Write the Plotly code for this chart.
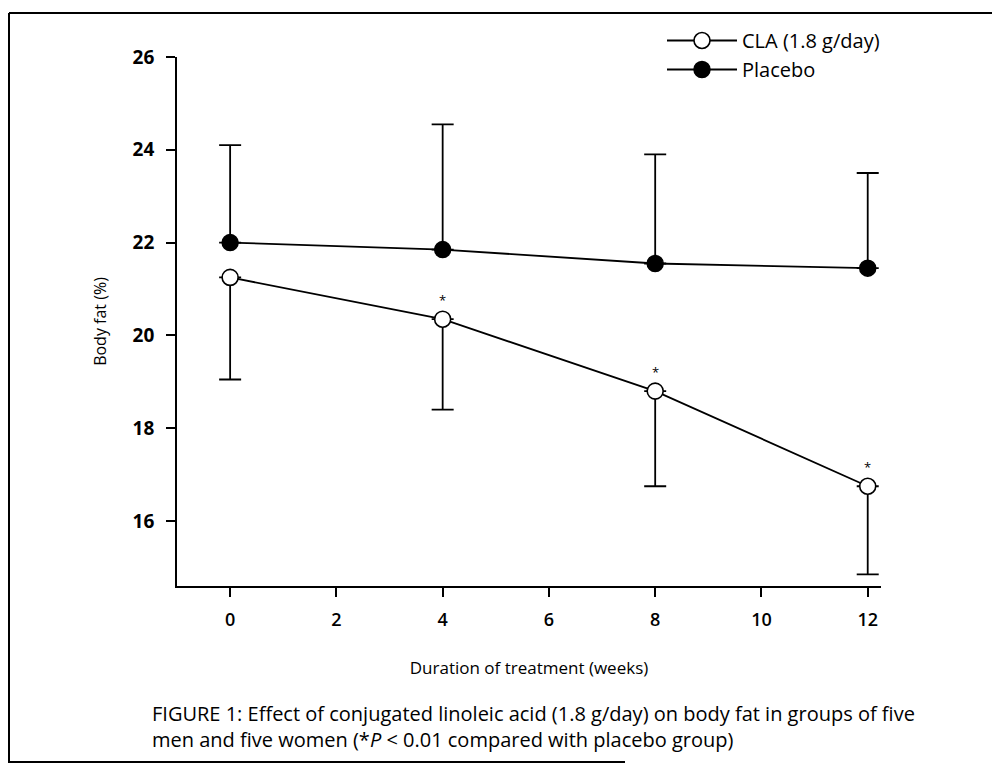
import plotly.graph_objects as go

weeks = [0, 4, 8, 12]
cla = [21.25, 20.35, 18.8, 16.75]
cla_err_low = [2.2, 1.95, 2.05, 1.9]
placebo = [22.0, 21.85, 21.55, 21.45]
placebo_err_up = [2.1, 2.7, 2.35, 2.05]
sig_weeks = [4, 8, 12]
sig_vals = [20.35, 18.8, 16.75]
x_ticks = [0, 2, 4, 6, 8, 10, 12]
y_ticks = [16, 18, 20, 22, 24, 26]

FONT = "Open Sans"
OFF = 8  # page body margin in the browser
# plot area wanted on screen: x 177..881, y 57..586
L, T = 177 - OFF, 57 - OFF
R, B = 1000 - (881 - OFF), 777 - (586 - OFF)
PW, PH = 1000 - L - R, 777 - T - B

def px(x):
    return (x - OFF - L) / PW

def py(y):
    return (777 - B - (y - OFF)) / PH

fig = go.Figure()
fig.add_trace(go.Scatter(
    x=weeks, y=placebo, name="Placebo", mode="lines+markers", cliponaxis=False,
    line=dict(color="black", width=1.8),
    marker=dict(symbol="circle", size=16, color="black", line=dict(color="black", width=1.5)),
    error_y=dict(type="data", symmetric=False, array=placebo_err_up,
                 arrayminus=[0] * len(weeks), color="black", thickness=1.8, width=11),
))
fig.add_trace(go.Scatter(
    x=weeks, y=cla, name="CLA (1.8 g/day)", mode="lines+markers", cliponaxis=False,
    line=dict(color="black", width=1.8),
    marker=dict(symbol="circle", size=16, color="white", line=dict(color="black", width=1.6)),
    error_y=dict(type="data", symmetric=False, array=[0] * len(weeks),
                 arrayminus=cla_err_low, color="black", thickness=1.8, width=11),
))

for w, v in zip(sig_weeks, sig_vals):
    fig.add_annotation(x=w, y=v, text="*", showarrow=False, yshift=19,
                       font=dict(family=FONT, size=13, color="black"))

fig.add_annotation(
    xref="paper", yref="paper", x=px(150), y=py(698), xanchor="left", yanchor="top",
    align="left", showarrow=False, font=dict(family=FONT, size=20, color="black"),
    text="FIGURE 1: Effect of conjugated linoleic acid (1.8 g/day) on body fat in groups of five<br>"
         "men and five women (*<i>P</i> &lt; 0.01 compared with placebo group)",
)

# page frame (scanned figure border)
line = dict(color="black", width=2)
fig.add_shape(type="line", xref="paper", yref="paper", x0=px(9), x1=px(1010), y0=py(13), y1=py(13), line=line)
fig.add_shape(type="line", xref="paper", yref="paper", x0=px(9), x1=px(9), y0=py(13), y1=py(762), line=line)
fig.add_shape(type="line", xref="paper", yref="paper", x0=px(8), x1=px(625), y0=py(762), y1=py(762), line=line)

fig.update_layout(
    width=1000, height=777,
    margin=dict(l=L, r=R, t=T, b=B, autoexpand=False),
    paper_bgcolor="white", plot_bgcolor="white",
    font=dict(family=FONT, color="black"),
    showlegend=True,
    legend=dict(x=px(662), y=py(21), xanchor="left", yanchor="top",
                traceorder="reversed", bgcolor="rgba(0,0,0,0)",
                font=dict(family=FONT, size=20, color="black"),
                itemwidth=70, tracegroupgap=2),
    xaxis=dict(range=[-1, 12.25], tickvals=x_ticks, ticks="outside", ticklen=9, tickwidth=1.8,
               tickcolor="black", showline=True, linecolor="black", linewidth=1.8,
               showgrid=False, zeroline=False, automargin=False, ticklabelstandoff=7,
               tickfont=dict(family=FONT, size=18, color="black", weight=600),
               title=dict(text="Duration of treatment (weeks)", standoff=33,
                          font=dict(family=FONT, size=17, color="black"))),
    yaxis=dict(range=[14.6, 26], tickvals=y_ticks, ticks="outside", ticklen=9, tickwidth=1.8,
               tickcolor="black", showline=True, linecolor="black", linewidth=1.8,
               showgrid=False, zeroline=False, automargin=False, ticklabelstandoff=8,
               tickfont=dict(family=FONT, size=19, color="black", weight="bold"),
               title=dict(text="Body fat (%)", standoff=22,
                          font=dict(family=FONT, size=16, color="black"))),
)

fig.write_html("out.html")
